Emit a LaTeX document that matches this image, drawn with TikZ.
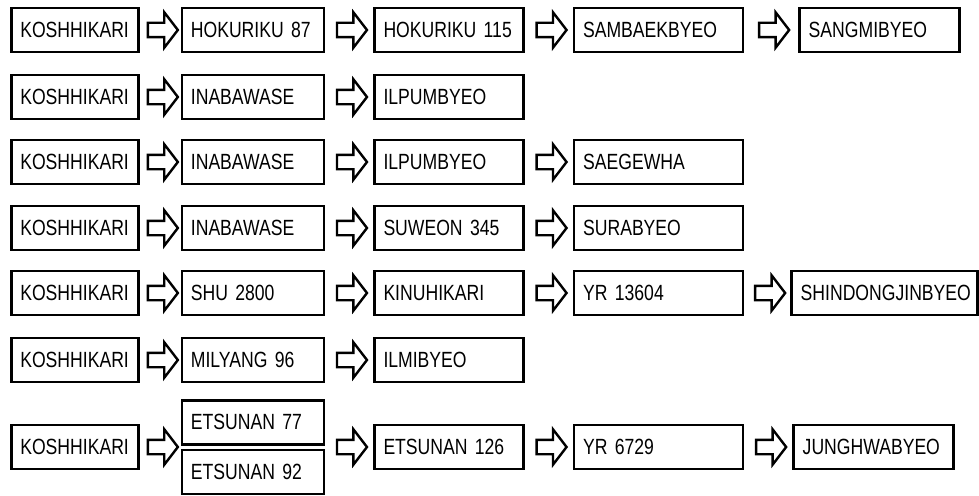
\documentclass[tikz,border=0pt]{standalone}
\usepackage{fontspec}
\setmainfont[FakeStretch=0.80]{Liberation Sans}
\usetikzlibrary{positioning, calc, shapes.arrows}

\begin{document}
\begin{tikzpicture}[
    x=1pt, y=-1pt, % pixel-like units, y grows downward
    node distance=48pt, % gap between boxes in a row
    box/.style={draw, line width=2.6pt, minimum height=44pt, inner xsep=9pt,
        inner ysep=0pt, text width=#1, align=left,
        font=\fontsize{22}{26}\selectfont},
    fatarrow/.style={draw, line width=2.4pt, fill=white, single arrow,
        minimum height=30pt, single arrow head extend=10.5pt,
        single arrow tip angle=105, inner xsep=0pt, inner ysep=6pt}
]
    \useasboundingbox (0,0) rectangle (979,495);

    % first column
    \node[box=109pt, anchor=west] (k1) at (10,30) {KOSHHIKARI};
    \node[box=109pt, anchor=west] (k2) at (10,97) {KOSHHIKARI};
    \node[box=109pt, anchor=west] (k3) at (10,162) {KOSHHIKARI};
    \node[box=109pt, anchor=west] (k4) at (10,228) {KOSHHIKARI};
    \node[box=109pt, anchor=west] (k5) at (10,293) {KOSHHIKARI};
    \node[box=109pt, anchor=west] (k6) at (10,360) {KOSHHIKARI};
    \node[box=109pt, anchor=west] (k7) at (10,447) {KOSHHIKARI};

    % row 1
    \node[box=124pt, right=41pt of k1] (h87) {HOKURIKU 87};
    \node[box=131pt, right=of h87] (h115) {HOKURIKU 115};
    \node[box=151pt, right=of h115] (sbk) {SAMBAEKBYEO};
    \node[box=142pt, right=54pt of sbk] (sgm) {SANGMIBYEO};

    % row 2
    \node[box=124pt, right=41pt of k2] (ina2) {INABAWASE};
    \node[box=131pt, right=of ina2] (ilp2) {ILPUMBYEO};

    % row 3
    \node[box=124pt, right=41pt of k3] (ina3) {INABAWASE};
    \node[box=131pt, right=of ina3] (ilp3) {ILPUMBYEO};
    \node[box=151pt, right=of ilp3] (sae) {SAEGEWHA};

    % row 4
    \node[box=124pt, right=41pt of k4] (ina4) {INABAWASE};
    \node[box=131pt, right=of ina4] (suw) {SUWEON 345};
    \node[box=151pt, right=of suw] (sur) {SURABYEO};

    % row 5
    \node[box=124pt, right=41pt of k5] (shu) {SHU 2800};
    \node[box=131pt, right=of shu] (kin) {KINUHIKARI};
    \node[box=151pt, right=of kin] (yr13604) {YR 13604};
    \node[box=168pt, right=46pt of yr13604] (sdj) {SHINDONGJINBYEO};

    % row 6
    \node[box=124pt, right=41pt of k6] (mil) {MILYANG 96};
    \node[box=131pt, right=of mil] (ilm) {ILMIBYEO};

    % row 7, two parents stacked
    \node[box=124pt, anchor=south west] (e77) at ([xshift=41pt, yshift=1.5pt]k7.east) {ETSUNAN 77};
    \node[box=124pt, below=3pt of e77] (e92) {ETSUNAN 92};
    \coordinate (pairw) at ($(e77.south west)!0.5!(e92.north west)$);
    \coordinate (paire) at ($(e77.south east)!0.5!(e92.north east)$);
    \node[box=131pt, right=of paire] (e126) {ETSUNAN 126};
    \node[box=151pt, right=of e126] (yr6729) {YR 6729};
    \node[box=142pt, right=of yr6729] (jhw) {JUNGHWABYEO};

    % block arrows between the boxes
    \path (k1) -- node[fatarrow] {} (h87);
    \path (h87) -- node[fatarrow] {} (h115);
    \path (h115) -- node[fatarrow] {} (sbk);
    \path (sbk) -- node[fatarrow] {} (sgm);

    \path (k2) -- node[fatarrow] {} (ina2);
    \path (ina2) -- node[fatarrow] {} (ilp2);

    \path (k3) -- node[fatarrow] {} (ina3);
    \path (ina3) -- node[fatarrow] {} (ilp3);
    \path (ilp3) -- node[fatarrow] {} (sae);

    \path (k4) -- node[fatarrow] {} (ina4);
    \path (ina4) -- node[fatarrow] {} (suw);
    \path (suw) -- node[fatarrow] {} (sur);

    \path (k5) -- node[fatarrow] {} (shu);
    \path (shu) -- node[fatarrow] {} (kin);
    \path (kin) -- node[fatarrow] {} (yr13604);
    \path (yr13604) -- node[fatarrow] {} (sdj);

    \path (k6) -- node[fatarrow] {} (mil);
    \path (mil) -- node[fatarrow] {} (ilm);

    \path (k7) -- node[fatarrow] {} (pairw);
    \path (paire) -- node[fatarrow] {} (e126);
    \path (e126) -- node[fatarrow] {} (yr6729);
    \path (yr6729) -- node[fatarrow] {} (jhw);
\end{tikzpicture}
\end{document}
